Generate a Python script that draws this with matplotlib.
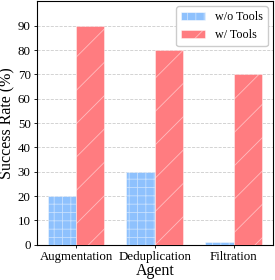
import numpy as np
import matplotlib
matplotlib.use('Agg')
import matplotlib.pyplot as plt

plt.rcParams['font.family'] = ['Liberation Serif', 'DejaVu Serif']
plt.rcParams['hatch.linewidth'] = 0.6

agents = ['Augmentation', 'Deduplication', 'Filtration']
without_tools = [20, 30, 1]
with_tools = [90, 80, 70]

x = np.arange(len(agents))
w = 0.36

fig = plt.figure(figsize=(2.75, 2.8), dpi=100)
ax = fig.add_axes([0.1345, 0.126, 0.857, 0.869])

ax.bar(x - w/2, without_tools, w, color='#8ec1fd', edgecolor=(1, 1, 1, 0.5),
       hatch='++', linewidth=0.6, label='w/o Tools', zorder=3)
ax.bar(x + w/2, with_tools, w, color='#ff7c80', edgecolor=(1, 1, 1, 0.5),
       hatch='/', linewidth=0.6, label='w/ Tools', zorder=3)

ax.set_ylim(0, 100)
ax.set_yticks(range(0, 100, 10))
ax.set_xticks(x)
ax.set_xticklabels(agents)
ax.tick_params(axis='both', labelsize=9.3, length=2.5, width=0.6, pad=2)
ax.set_xlabel('Agent', fontsize=11.5, labelpad=0)
ax.set_ylabel('Success Rate (%)', fontsize=11.5, labelpad=2)
ax.yaxis.grid(True, linestyle='--', color='#cccccc', linewidth=0.6, zorder=0)
ax.set_axisbelow(True)
for s in ax.spines.values():
    s.set_linewidth(0.8)

ax.legend(loc='upper right', fontsize=8.7, fancybox=True, framealpha=1,
          edgecolor='#cccccc', handlelength=2.0, borderpad=0.4,
          borderaxespad=0.4)

fig.savefig('out.png', dpi=100)
